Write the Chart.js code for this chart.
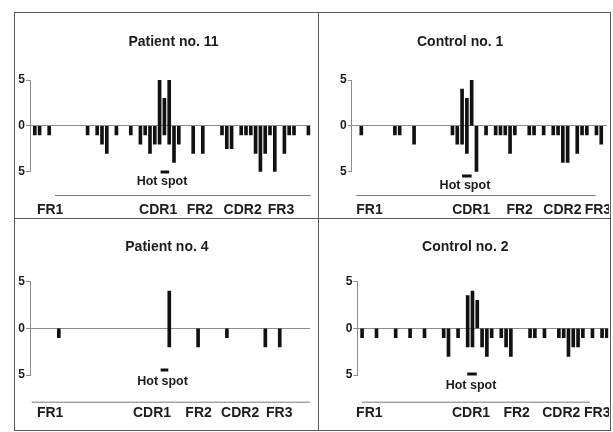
<!DOCTYPE html>
<html>
<head>
<meta charset="utf-8">
<script src="https://cdn.jsdelivr.net/npm/chart.js@4.4.1/dist/chart.umd.min.js"></script>
<style>
    body { margin: 0; background: #fff; }
    #page { position: relative; width: 613px; height: 432px; overflow: hidden; }
    canvas { position: absolute; }
    .rule { position: absolute; background: #5a5a5a; }
</style>
</head>
<body>
<div id="page">
    <div class="rule" style="left:14px; top:12px; width:597px; height:1px;"></div>
    <div class="rule" style="left:14px; top:430px; width:597px; height:1px;"></div>
    <div class="rule" style="left:14px; top:12px; width:1px; height:419px;"></div>
    <div class="rule" style="left:610px; top:12px; width:1px; height:419px;"></div>
    <div class="rule" style="left:318px; top:12px; width:1px; height:419px;"></div>
    <div class="rule" style="left:14px; top:218px; width:597px; height:1px;"></div>
    <canvas id="c1" width="302" height="204" style="left:15px; top:13px;"></canvas>
    <canvas id="c2" width="290" height="204" style="left:319px; top:13px;"></canvas>
    <canvas id="c3" width="302" height="210" style="left:15px; top:219px;"></canvas>
    <canvas id="c4" width="290" height="210" style="left:319px; top:219px;"></canvas>
</div>
<script>
// codon positions and bar ends (low / high) for each sequence
const regions = ['FR1', 'CDR1', 'FR2', 'CDR2', 'FR3'];

const patient11Pos  = [1, 2, 4, 12, 14, 15, 16, 18, 21, 23, 24, 25, 26, 27, 28, 29, 30, 31, 34, 36, 40, 41, 42, 44, 45, 46, 47, 48, 49, 50, 51, 53, 54, 55, 58];
const patient11Low  = [-1, -1, -1, -1, -1, -2, -3, -1, -1, -2, -1, -3, -2, -2, -1, -2, -4, -2, -3, -3, -1, -2.5, -2.5, -1, -1, -1, -3, -5, -3, -1, -5, -3, -1, -1, -1];
const patient11High = [0, 0, 0, 0, 0, 0, 0, 0, 0, 0, 0, 0, 0, 5, 3, 5, 0, 0, 0, 0, 0, 0, 0, 0, 0, 0, 0, 0, 0, 0, 0, 0, 0, 0, 0];

const control1Pos  = [2, 9, 10, 13, 21, 22, 23, 24, 25, 26, 28, 30, 31, 32, 33, 34, 37, 38, 40, 42, 43, 44, 45, 47, 48, 49, 51, 52];
const control1Low  = [-1, -1, -1, -2, -1, -2, -2, -3, 0, -5, -1, -1, -1, -1, -3, -1, -1, -1, -1, -1, -1, -4, -4, -3, -1, -1, -1, -2];
const control1High = [0, 0, 0, 0, 0, 0, 4, 3, 5, 0, 0, 0, 0, 0, 0, 0, 0, 0, 0, 0, 0, 0, 0, 0, 0, 0, 0, 0];

const patient4Pos  = [6, 29, 35, 41, 49, 52];
const patient4Low  = [-1, -2, -2, -1, -2, -2];
const patient4High = [0, 4, 0, 0, 0, 0];

const control2Pos  = [1, 4, 8, 11, 14, 18, 19, 21, 23, 24, 25, 26, 27, 28, 30, 31, 32, 36, 37, 39, 42, 43, 44, 45, 46, 47, 49, 51, 52];
const control2Low  = [-1, -1, -1, -1, -1, -1, -3, -1, -2, -2, 0, -2, -3, -1, -1, -2, -3, -1, -1, -1, -1, -1, -3, -2, -2, -1, -1, -1, -1];
const control2High = [0, 0, 0, 0, 0, 0, 0, 0, 3.5, 4, 3, 0, 0, 0, 0, 0, 0, 0, 0, 0, 0, 0, 0, 0, 0, 0, 0, 0, 0];

const FONT = '"Liberation Sans", Arial, Helvetica, sans-serif';
const INK = '#1c1c1c';

// draws title, hot spot mark, region rule and region names
const panelDecor = {
    id: 'panelDecor',
    afterDatasetsDraw(chart, args, opts) {
        const { ctx, chartArea } = chart;
        const x = chart.scales.x;
        ctx.save();
        ctx.fillStyle = INK;
        ctx.textAlign = 'center';
        ctx.textBaseline = 'middle';

        ctx.font = 'bold 14px ' + FONT;
        ctx.fillText(opts.title, x.getPixelForValue(opts.titleAt), chartArea.top + opts.titleDy);

        ctx.strokeStyle = '#111';
        ctx.lineWidth = 3;
        ctx.beginPath();
        ctx.moveTo(x.getPixelForValue(opts.hot[0]), chartArea.bottom + opts.hotDy);
        ctx.lineTo(x.getPixelForValue(opts.hot[1]), chartArea.bottom + opts.hotDy);
        ctx.stroke();

        ctx.font = 'bold 12.5px ' + FONT;
        ctx.fillText('Hot spot', x.getPixelForValue(opts.hotTextAt), chartArea.bottom + opts.hotTextDy);

        ctx.strokeStyle = '#7a7a7a';
        ctx.lineWidth = 1;
        ctx.beginPath();
        ctx.moveTo(x.getPixelForValue(opts.line[0]), chartArea.bottom + opts.lineDy + 0.5);
        ctx.lineTo(x.getPixelForValue(opts.line[1]), chartArea.bottom + opts.lineDy + 0.5);
        ctx.stroke();

        ctx.font = 'bold 14px ' + FONT;
        regions.forEach((name, i) => {
            ctx.fillText(name, x.getPixelForValue(opts.labelsAt[i]), chartArea.bottom + opts.labelDy);
        });
        ctx.restore();
    }
};

function makePanel(id, title, pos, low, high, layout) {
    const points = pos.map((p, i) => ({ x: p, y: [low[i], high[i]] }));
    return new Chart(document.getElementById(id), {
        type: 'bar',
        data: {
            datasets: [{
                data: points,
                backgroundColor: '#111',
                borderWidth: 0,
                barThickness: 3,
            }]
        },
        options: {
            responsive: false,
            animation: false,
            layout: { padding: layout.padding },
            plugins: {
                legend: { display: false },
                tooltip: { enabled: false },
                panelDecor: Object.assign({ title: title }, layout.decor),
            },
            scales: {
                x: {
                    type: 'linear',
                    min: 0,
                    max: layout.xMax,
                    offset: false,
                    display: false,
                },
                y: {
                    min: -5,
                    max: 5,
                    afterFit: (axis) => { axis.width = 15; },
                    ticks: {
                        stepSize: 5,
                        padding: 1,
                        color: INK,
                        font: { family: FONT, size: 12, weight: 'bold' },
                        callback: (v) => Math.abs(v),
                    },
                    grid: {
                        color: (c) => c.tick && c.tick.value === 0 ? '#8c8c8c' : 'rgba(0,0,0,0)',
                        tickColor: '#8c8c8c',
                        tickLength: 4,
                        lineWidth: 1,
                    },
                    border: { color: '#8c8c8c', width: 1 },
                }
            }
        },
        plugins: [panelDecor]
    });
}

makePanel('c1', 'Patient no. 11', patient11Pos, patient11Low, patient11High, {
    padding: { left: 0, right: 6.2, top: 67, bottom: 45.3 },
    xMax: 58.5,
    decor: { titleAt: 29.9, titleDy: -38.3, hot: [27.2, 29.0], hotDy: 0.3, hotTextAt: 27.5, hotTextDy: 10.3,
             line: [5.2, 58.5], lineDy: 23.3, labelsAt: [4.2, 26.7, 35.4, 44.3, 52.3], labelDy: 38.3 }
});

makePanel('c2', 'Control no. 1', control1Pos, control1Low, control1High, {
    padding: { left: 17.7, right: 2, top: 67, bottom: 45.3 },
    xMax: 53.2,
    decor: { titleAt: 22.6, titleDy: -38.3, hot: [23.0, 25.0], hotDy: 4.3, hotTextAt: 23.6, hotTextDy: 14.3,
             line: [1.0, 50.8], lineDy: 23.3, labelsAt: [3.7, 24.9, 35.0, 43.9, 51.3], labelDy: 38.3 }
});

makePanel('c3', 'Patient no. 4', patient4Pos, patient4Low, patient4High, {
    padding: { left: 0, right: 7, top: 62.7, bottom: 54 },
    xMax: 58.3,
    decor: { titleAt: 28.5, titleDy: -35, hot: [27.2, 28.8], hotDy: -5, hotTextAt: 27.6, hotTextDy: 6.7,
             line: [0.35, 58.3], lineDy: 26.7, labelsAt: [4.2, 25.4, 35.1, 43.75, 51.9], labelDy: 38.3 }
});

makePanel('c4', 'Control no. 2', control2Pos, control2Low, control2High, {
    padding: { left: 23.3, right: 0.7, top: 62.7, bottom: 54 },
    xMax: 52.3,
    decor: { titleAt: 22.5, titleDy: -35, hot: [22.9, 24.9], hotDy: -1, hotTextAt: 23.7, hotTextDy: 10.7,
             line: [0.9, 48.5], lineDy: 26.7, labelsAt: [2.5, 23.7, 33.2, 42.5, 50.0], labelDy: 38.3 }
});
</script>
</body>
</html>
